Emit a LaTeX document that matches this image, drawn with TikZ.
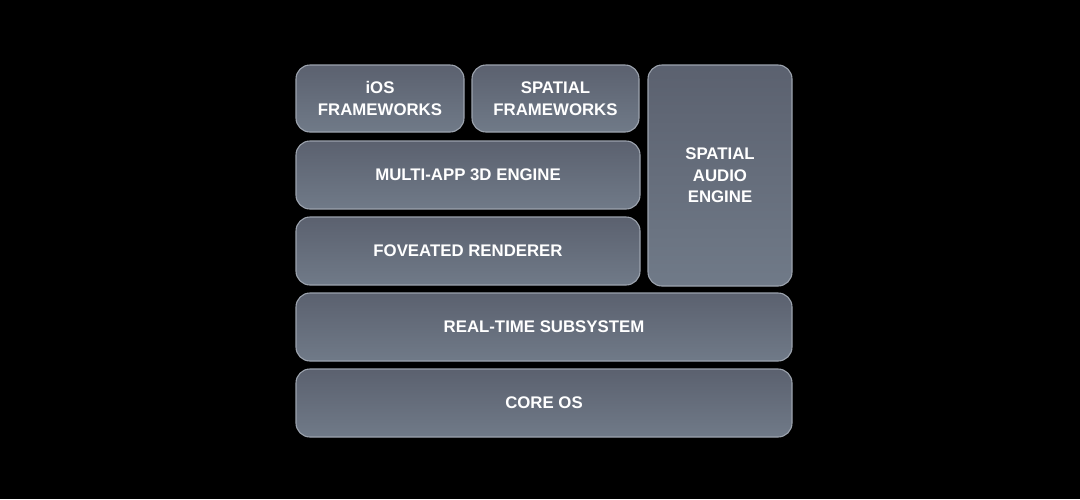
\documentclass[tikz,border=0pt]{standalone}
\usepackage{fontspec}
\setmainfont{Liberation Sans}
\begin{document}
\begin{tikzpicture}[x=1pt,y=-1pt,
  layer/.style={rectangle, rounded corners=14pt, draw=edgec, line width=1.1pt,
    top color=topc, bottom color=botc, text=white, align=center,
    font=\fontsize{16.8}{21.5}\selectfont\bfseries, inner sep=0pt}]
\definecolor{topc}{HTML}{5B616F}
\definecolor{botc}{HTML}{707A88}
\definecolor{edgec}{HTML}{9CA3AE}
\fill[black] (0,0) rectangle (1080,499);
\useasboundingbox (0,0) rectangle (1080,499);
\node[layer, minimum width=168pt, minimum height=67pt] (ios) at (380,98.5) {iOS\\FRAMEWORKS};
\node[layer, minimum width=167pt, minimum height=67pt] (spf) at (555.5,98.5) {SPATIAL\\FRAMEWORKS};
\node[layer, minimum width=144pt, minimum height=221pt] (sae) at (720,175.5) {SPATIAL\\AUDIO\\ENGINE};
\node[layer, minimum width=344pt, minimum height=68pt] (mae) at (468,175) {MULTI-APP 3D ENGINE};
\node[layer, minimum width=344pt, minimum height=68pt] (fr) at (468,251) {FOVEATED RENDERER};
\node[layer, minimum width=496pt, minimum height=68pt] (rts) at (544,327) {REAL-TIME SUBSYSTEM};
\node[layer, minimum width=496pt, minimum height=68pt] (core) at (544,403) {CORE OS};
\end{tikzpicture}
\end{document}
